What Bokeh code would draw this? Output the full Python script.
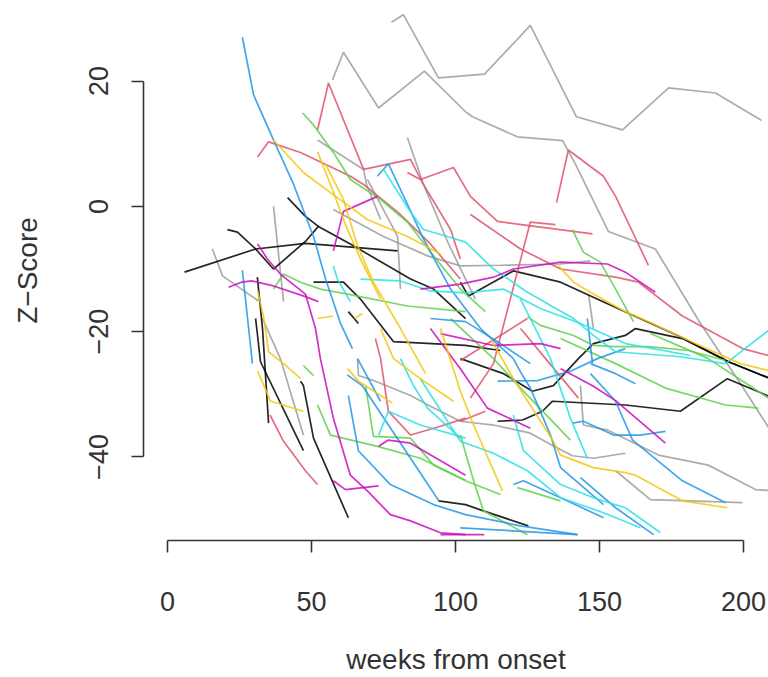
from bokeh.plotting import figure
from bokeh.models import Range1d, FixedTicker
from bokeh.embed import file_html
from bokeh.resources import INLINE

# ---- data: weeks from onset / Z-score, grouped by line colour ----
gray_weeks = [
    [77.8, 81.9, 94.1, 110.1, 126.0, 142.0, 158.0, 174.0, 190.3, 206.3],
    [57.3, 61.1, 73.3, 89.2, 103.5, 105.9, 121.5, 137.2, 141.7, 153.1, 169.4, 185.1, 199.0, 211.1],
    [83.3, 88.9, 97.6, 106.9],
    [52.1, 68.1, 69.1, 74.0],
    [15.6, 19.1, 31.6],
    [36.8, 40.3],
    [33.0, 39.2, 47.2],
    [66.0, 66.3, 72.2, 84.4, 91.3, 101.7, 113.2, 126.0, 132.3, 140.6, 147.9, 159.0],
    [143.4, 144.4, 152.8, 170.5, 187.8, 204.2, 211.1],
    [155.6, 167.7, 199.7],
    [57.6, 75.0, 90.3, 101.7, 115.6, 136.5, 146.9],
    [146.2, 147.9],
    [69.4, 79.9, 80.9],
]
gray_z = [
    [29.4, 30.6, 20.5, 21.1, 28.9, 14.3, 12.2, 18.9, 18.1, 13.7],
    [20.2, 24.6, 15.7, 21.6, 15.1, 14.3, 11.1, 10.5, 6.7, -4.0, -6.8, -18.7, -28.3, -37.0],
    [11.0, 3.5, -6.0, -14.8],
    [10.6, 5.9, 3.5, -2.1],
    [-6.8, -11.1, -15.1],
    [0.0, -15.2],
    [-17.9, -24.3, -36.5],
    [-24.3, -27.0, -27.9, -30.2, -31.9, -34.3, -34.9, -36.2, -37.8, -39.8, -40.2, -39.4],
    [-28.6, -34.9, -35.7, -39.7, -41.3, -45.2, -45.4],
    [-42.2, -46.8, -47.3],
    [-0.5, -4.8, -7.9, -9.5, -9.4, -9.2, -8.7],
    [-14.0, -19.5],
    [4.3, -4.8, -13.2],
]

black_weeks = [
    [5.9, 30.6, 47.9, 79.9],
    [20.8, 24.3, 30.6, 36.8, 47.9, 52.4, 64.6, 84.4, 92.4, 103.5],
    [101.7, 104.5, 120.1, 136.5, 158.3, 178.1, 194.8, 209.4],
    [41.7, 47.9, 52.4],
    [50.7, 61.1, 67.0, 78.5, 103.5, 115.6],
    [31.2, 33.0, 35.1],
    [30.6, 32.3, 47.2],
    [46.2, 47.2, 50.7, 62.8],
    [94.1, 103.5, 109.7, 125.3],
    [101.7, 116.7, 126.7, 134.0, 142.7, 147.9, 159.0, 162.5, 178.8, 194.8, 209.4],
    [114.6, 123.3, 130.2, 133.7, 159.0, 178.1, 194.4, 208.8],
    [62.8, 66.3],
]
black_z = [
    [-10.5, -6.8, -5.9, -7.1],
    [-3.7, -4.1, -6.8, -10.0, -5.6, -3.2, -6.3, -11.6, -13.2, -17.9],
    [-12.1, -14.3, -10.3, -12.1, -16.7, -20.8, -24.8, -27.5],
    [1.4, -1.6, -3.2],
    [-12.1, -12.1, -14.8, -21.6, -22.2, -23.0],
    [-11.3, -19.5, -34.6],
    [-17.9, -24.8, -39.0],
    [-27.9, -28.6, -37.0, -49.7],
    [-47.0, -47.6, -48.6, -51.0],
    [-24.3, -26.7, -29.5, -28.6, -24.3, -21.9, -20.6, -19.5, -21.1, -24.8, -27.5],
    [-34.3, -34.1, -32.7, -31.1, -31.7, -32.7, -27.5, -30.3],
    [-16.8, -18.7],
]

blue_weeks = [
    [26.0, 29.9, 36.8, 43.8, 50.7, 54.9, 60.1, 64.2],
    [26.0, 29.5],
    [72.9, 76.7, 80.9, 88.9, 98.3, 108.7, 120.1, 123.3, 126.0, 133.0, 136.5, 151.4],
    [62.8, 66.3, 77.4, 92.4, 103.5, 122.6, 142.4],
    [62.4, 67.6, 94.2],
    [114.6, 128.5, 139.9, 149.3, 159.0],
    [140.6, 144.4, 154.9, 164.2, 172.9],
    [120.1, 123.6, 136.5, 151.4],
    [101.7, 142.4],
    [146.9, 155.6, 161.5, 178.8, 193.8],
    [146.9, 155.6, 162.5],
    [143.4, 155.6, 168.8],
    [145.8, 147.6],
    [91.3, 103.5, 115.6, 126.0],
    [66.0, 74.0],
]
blue_z = [
    [27.0, 17.8, 10.6, 3.5, -4.8, -11.6, -18.7, -22.7],
    [-10.2, -25.1],
    [4.8, 6.8, 2.7, -5.2, -13.2, -19.5, -24.3, -27.0, -29.0, -36.5, -41.7, -47.6],
    [-30.2, -39.0, -44.4, -47.6, -49.2, -51.0, -52.4],
    [-26.9, -28.6, -47.0],
    [-27.9, -27.8, -26.3, -24.3, -22.7],
    [-34.6, -34.3, -36.5, -36.5, -35.9],
    [-44.4, -43.8, -46.5, -49.7],
    [-51.3, -52.4],
    [-26.7, -31.1, -37.3, -43.8, -47.3],
    [-25.1, -26.7, -28.3],
    [-43.3, -48.1, -52.4],
    [-17.9, -25.1],
    [-17.9, -18.4, -21.9, -25.1],
    [-24.3, -31.1],
]

cyan_weeks = [
    [75.0, 84.4, 88.9, 97.2, 103.5, 113.2, 125.0, 141.0, 147.9, 155.6, 178.1, 193.8, 208.7],
    [67.0, 80.9, 91.3, 103.5, 116.7, 129.5, 143.4, 159.0, 181.6],
    [120.1, 123.6, 136.5, 147.9, 159.0, 171.2],
    [87.8, 101.7, 113.2, 125.0, 136.5, 151.4, 164.2],
    [122.6, 133.0, 139.9, 145.8],
    [73.3, 76.7, 87.8, 103.5],
    [80.9, 85.4, 90.3, 101.7],
    [57.6, 59.0, 63.5],
]
cyan_z = [
    [5.9, -0.9, -3.7, -4.8, -5.7, -10.0, -13.7, -17.9, -20.6, -23.2, -24.0, -25.1, -19.8],
    [-11.6, -11.9, -13.5, -13.8, -13.2, -16.3, -18.7, -21.9, -23.8],
    [-33.3, -39.0, -44.4, -46.5, -48.1, -52.1],
    [-27.5, -37.5, -39.4, -42.2, -46.5, -48.9, -51.3],
    [-14.8, -24.3, -33.8, -40.2],
    [-36.5, -32.7, -34.9, -37.0],
    [-24.3, -28.6, -32.2, -37.0],
    [-9.5, -11.6, -15.2],
]

green_weeks = [
    [46.9, 50.7, 57.6, 63.5, 74.0, 83.3, 92.4, 101.7, 110.4],
    [36.8, 40.3, 46.2, 53.1, 62.5, 83.3, 103.5],
    [140.6, 144.4, 150.3, 155.6, 161.8],
    [125.0, 129.5, 141.0, 147.9, 155.6, 167.0, 180.9, 193.8],
    [136.5, 155.6, 172.9, 193.8, 205.2],
    [167.7, 187.8, 208.7],
    [68.8, 71.5, 84.4, 92.4, 103.5, 115.6],
    [52.1, 56.6, 72.9, 87.8, 103.5],
    [98.3, 113.2, 123.6, 139.9],
    [101.7, 106.3, 109.7, 125.0],
    [121.5, 136.5],
    [47.2, 50.7],
]
green_z = [
    [14.9, 13.0, 8.6, 4.3, 1.1, -2.5, -7.9, -13.2, -16.8],
    [-13.2, -10.8, -12.1, -13.2, -14.0, -15.9, -16.8],
    [-3.7, -7.3, -8.9, -13.2, -18.4],
    [-17.6, -19.0, -20.6, -22.2, -22.4, -22.4, -23.0, -24.6],
    [-21.1, -25.1, -29.0, -31.7, -32.2],
    [-20.3, -24.3, -30.6],
    [-28.6, -36.7, -37.0, -41.3, -43.8, -46.0],
    [-31.7, -36.5, -38.3, -40.2, -43.7],
    [-17.9, -24.3, -29.5, -37.3],
    [-36.5, -43.8, -48.6, -52.4],
    [-44.9, -47.0],
    [-25.4, -27.0],
]

yellow_weeks = [
    [36.8, 47.2, 56.6, 69.4, 83.7, 94.8],
    [54.9, 61.1, 66.0, 71.5, 80.9, 89.6],
    [52.1, 56.6, 61.8, 67.0, 74.0],
    [31.3, 33.3, 35.1, 40.3, 46.2],
    [31.3, 35.8, 47.2],
    [62.5, 66.3, 78.1],
    [74.0, 78.5, 87.8, 99.3],
    [94.8, 101.7, 106.3, 116.3],
    [112.2, 120.1, 134.0, 136.5, 147.9, 159.0, 162.5, 178.8, 194.4],
    [135.8, 141.0, 147.9, 159.0, 167.0, 183.3, 199.0, 208.7],
    [52.1, 57.6],
    [64.9, 67.7],
]
yellow_z = [
    [10.6, 5.4, 2.2, -2.1, -4.9, -7.6],
    [6.7, 1.1, -6.3, -12.1, -19.5, -26.7],
    [8.7, 3.5, -2.9, -8.4, -14.8],
    [-13.5, -17.5, -23.2, -25.1, -27.5],
    [-26.3, -31.1, -32.7],
    [-25.9, -27.9, -31.4],
    [-19.5, -24.3, -27.5, -31.1],
    [-19.5, -29.5, -34.9, -45.4],
    [-21.1, -27.5, -37.5, -39.7, -41.7, -42.5, -42.9, -47.0, -48.1],
    [-9.5, -12.1, -14.0, -16.8, -18.4, -21.9, -25.1, -26.2],
    [-17.9, -17.5],
    [-17.9, -17.1],
]

magenta_weeks = [
    [21.2, 25.7, 29.2, 36.8, 47.9, 52.4],
    [31.3, 34.7, 39.2, 47.9, 51.4, 53.1, 57.6, 63.5, 69.4, 77.4, 84.4, 94.8, 103.5],
    [57.6, 61.8, 73.3],
    [73.3, 76.7, 84.4, 103.5],
    [57.6, 61.1, 72.9],
    [87.8, 101.7, 113.2, 120.1, 136.5, 152.8, 159.0, 169.4],
    [94.8, 113.2, 129.5, 136.5],
    [91.3, 101.7, 111.1, 126.0],
    [136.5, 141.0, 147.9, 155.6, 172.9],
    [94.8, 110.0],
]
magenta_z = [
    [-12.9, -12.1, -11.9, -12.7, -14.4, -15.2],
    [-6.0, -8.4, -10.8, -14.0, -19.5, -24.3, -33.8, -42.9, -45.4, -49.2, -50.2, -52.1, -52.4],
    [-43.8, -45.2, -44.6],
    [-38.3, -37.3, -37.8, -42.9],
    [-7.1, -0.8, 1.6],
    [-13.2, -12.4, -11.3, -10.0, -8.9, -9.2, -10.5, -13.7],
    [-20.3, -22.2, -21.9, -22.7],
    [-19.5, -25.9, -32.2, -35.4],
    [-25.9, -27.0, -28.7, -31.0, -37.8],
    [-52.4, -52.4],
]

red_weeks = [
    [31.3, 35.1, 46.2, 63.5, 68.1, 80.9, 91.3, 101.7],
    [52.1, 55.9, 68.1, 84.4, 88.5, 98.3, 101.7],
    [83.3, 87.8, 99.3, 105.2, 114.6, 129.5, 147.6],
    [135.1, 139.2, 151.4, 155.6, 167.0],
    [105.2, 113.2, 126.0, 134.7],
    [105.2, 122.6, 136.5, 155.6, 163.5, 178.8, 199.7, 208.7],
    [101.7, 115.6, 125.0],
    [35.6, 40.3, 47.9, 52.1],
    [72.2, 74.0, 76.7, 84.4, 94.8, 103.5],
    [122.6, 131.3, 142.7],
    [101.7, 110.4],
]
red_z = [
    [7.9, 10.3, 8.6, 4.8, 3.5, -1.3, -6.0, -11.6],
    [12.2, 19.7, 5.9, 7.5, 3.8, -3.7, -8.4],
    [5.4, 4.3, 6.2, 1.6, -2.4, -3.3, -4.4],
    [0.6, 9.0, 4.8, 1.6, -9.4],
    [-30.6, -25.1, -2.5, -2.9],
    [-1.3, -6.8, -10.0, -11.3, -12.1, -17.5, -22.7, -23.8],
    [-24.6, -20.6, -17.9],
    [-33.3, -37.5, -42.2, -44.4],
    [-21.1, -24.3, -32.7, -36.5, -35.1, -33.8],
    [-19.5, -24.3, -30.6],
    [-34.3, -32.7],
]

x_ticks = [0, 50, 100, 150, 200]
y_ticks = [-40, -20, 0, 20]
y_tick_labels = {-40: "\u221240", -20: "\u221220", 0: "0", 20: "20"}

# ---- figure ----
p = figure(width=768, height=677, output_backend="svg", toolbar_location=None,
           x_range=Range1d(-8.33, 208.7), y_range=Range1d(-53.33, 32.86),
           min_border_left=143, min_border_right=0, min_border_top=0,
           min_border_bottom=134)
p.outline_line_color = None
p.xgrid.visible = False
p.ygrid.visible = False
p.background_fill_color = "white"
p.border_fill_color = "white"

groups = [
    (gray_weeks, gray_z, "#9E9E9E"),
    (black_weeks, black_z, "#000000"),
    (red_weeks, red_z, "#DF536B"),
    (green_weeks, green_z, "#61D04F"),
    (blue_weeks, blue_z, "#2297E6"),
    (cyan_weeks, cyan_z, "#28E2E5"),
    (magenta_weeks, magenta_z, "#CD0BBC"),
    (yellow_weeks, yellow_z, "#F5C710"),
]
for xs, ys, col in groups:
    p.multi_line(xs=xs, ys=ys, line_color=col, line_width=1.7, line_alpha=0.85)

font = "Liberation Sans"
tc = "#333333"
for ax in (p.xaxis[0], p.yaxis[0]):
    ax.axis_line_color = tc
    ax.axis_line_width = 1.6
    ax.major_tick_line_color = tc
    ax.major_tick_line_width = 1.6
    ax.major_tick_out = 12
    ax.major_tick_in = 0
    ax.minor_tick_line_color = None
    ax.major_label_text_font = font
    ax.major_label_text_font_size = "27px"
    ax.major_label_text_color = tc
    ax.axis_label_text_font = font
    ax.axis_label_text_font_size = "28px"
    ax.axis_label_text_font_style = "normal"
    ax.axis_label_text_color = tc

p.xaxis.ticker = FixedTicker(ticks=x_ticks)
p.xaxis.bounds = (0, 200)
p.xaxis.major_label_standoff = 39
p.xaxis.axis_label = "weeks from onset"
p.xaxis.axis_label_standoff = 30

p.yaxis.ticker = FixedTicker(ticks=y_ticks)
p.yaxis.bounds = (-40, 20)
p.yaxis.major_label_overrides = y_tick_labels
p.yaxis.major_label_orientation = "vertical"
p.yaxis.major_label_standoff = 23
p.yaxis.axis_label = "Z\u2212Score"
p.yaxis.axis_label_standoff = 44

open("out.html", "w").write(file_html(p, INLINE))
